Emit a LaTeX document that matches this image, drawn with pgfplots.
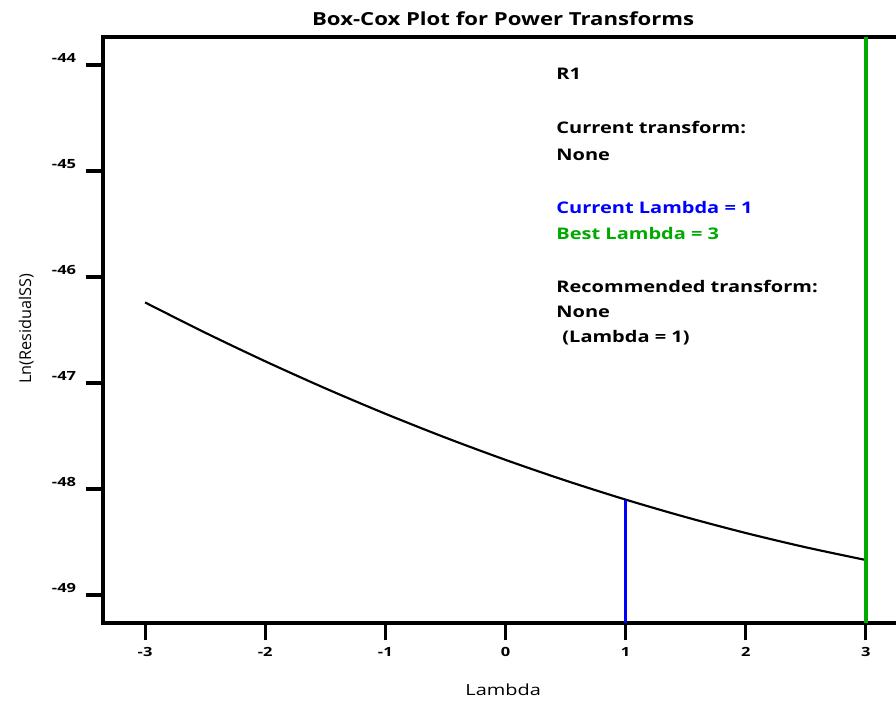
\documentclass[border=0pt]{standalone}
\usepackage{pgfplots}
\pgfplotsset{compat=1.18}
\usepackage{fontspec}
\setmainfont{Open Sans}
\definecolor{bestgreen}{RGB}{0,170,0}
\definecolor{curblue}{RGB}{0,0,255}
\begin{document}
\begin{tikzpicture}[
  ann/.style={anchor=west, xscale=1.25, font=\bfseries\fontsize{12}{14}\selectfont}]
\begin{axis}[
  name=ax,
  scale only axis,
  width=596.25pt, height=439.5pt,
  xmin=-3.35, xmax=3.267,
  ymin=-49.264, ymax=-43.736,
  xtick={-3,-2,-1,0,1,2,3},
  ytick={-49,-48,-47,-46,-45,-44},
  tick align=outside,
  xtick pos=bottom, ytick pos=left,
  major tick length=13pt,
  every tick/.style={black, line width=2.3pt},
  axis line style={line width=2.3pt},
  /pgf/number format/assume math mode=true,
  ticklabel style={font=\bfseries\fontsize{9.5}{11}\selectfont, xscale=1.3},
  xticklabel style={anchor=center, yshift=-9pt},
  yticklabel style={anchor=east, yshift=5.5pt, xshift=-2pt},
  clip=false,
]
\addplot[black, line width=1.6pt, smooth] coordinates {
  (-3,-46.24) (-2.5,-46.525) (-2,-46.795) (-1.5,-47.05) (-1,-47.29)
  (-0.5,-47.515) (0,-47.725) (0.5,-47.92) (1,-48.10) (1.5,-48.265)
  (2,-48.415) (2.5,-48.55) (3,-48.67)
};
\addplot[curblue, line width=2.4pt] coordinates {(1,-49.264) (1,-48.10)};
\addplot[bestgreen, line width=3.3pt] coordinates {(3,-49.264) (3,-43.736)};
\node[ann] at (axis cs:0.375,-44.085) {R1};
\node[ann] at (axis cs:0.375,-44.594) {Current transform:};
\node[ann] at (axis cs:0.375,-44.849) {None};
\node[ann, text=curblue] at (axis cs:0.375,-45.340) {Current Lambda = 1};
\node[ann, text=bestgreen] at (axis cs:0.375,-45.585) {Best Lambda = 3};
\node[ann] at (axis cs:0.375,-46.085) {Recommended transform:};
\node[ann] at (axis cs:0.375,-46.330) {None};
\node[ann] at (axis cs:0.425,-46.575) {(Lambda = 1)};
\end{axis}
\node[font=\bfseries\fontsize{13.5}{15}\selectfont, xscale=1.23] at ([xshift=2pt,yshift=13.5pt]ax.north) {Box-Cox Plot for Power Transforms};
\node[font=\fontsize{11.5}{13}\selectfont, xscale=1.3] at ([xshift=2pt,yshift=-50.25pt]ax.south) {Lambda};
\node[font=\fontsize{12.2}{14}\selectfont, rotate=90] at ([xshift=-57.5pt,yshift=1pt]ax.west) {Ln(ResidualSS)};
\pgfresetboundingbox
\path[use as bounding box] ([shift={(-77.25pt,-57.75pt)}]ax.south west) rectangle ([shift={(-1.5pt,27.75pt)}]ax.north east);
\end{tikzpicture}
\end{document}
